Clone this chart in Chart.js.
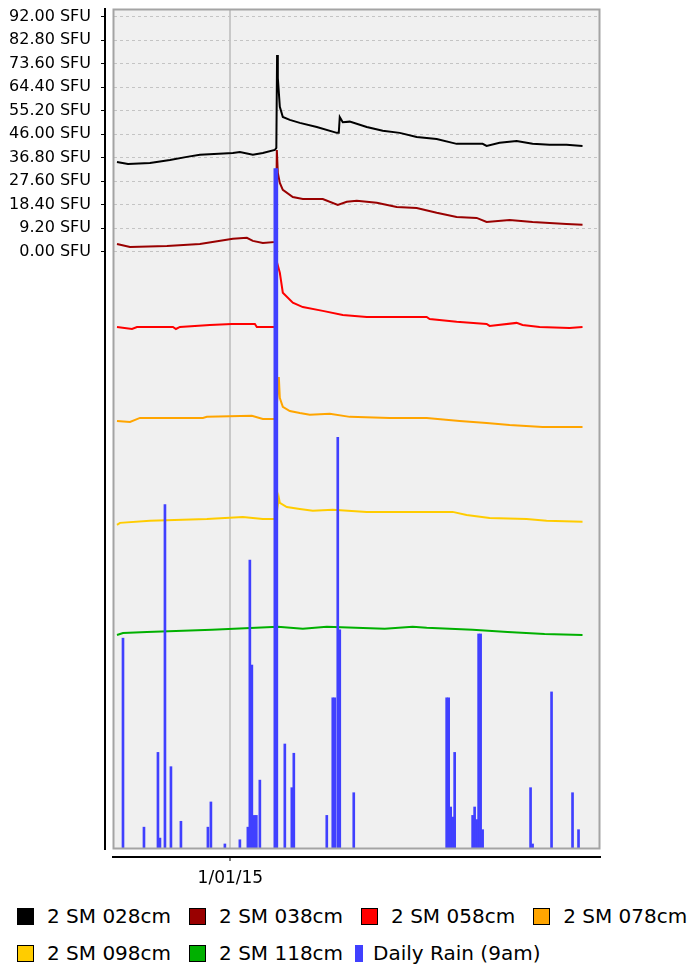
<!DOCTYPE html>
<html>
<head>
<meta charset="utf-8">
<title>Soil moisture</title>
<script src="https://cdn.jsdelivr.net/npm/chart.js@4.4.1/dist/chart.umd.min.js"></script>
<style>
  html, body { margin: 0; padding: 0; background: #fff; overflow: hidden; }
  #wrap { position: relative; width: 691px; height: 966px; }
  #chart { position: absolute; left: 0; top: 0; }
  #legend {
    position: absolute; left: 17px; top: 906px; width: 680px;
    display: flex; flex-wrap: wrap; column-gap: 18px; row-gap: 17px;
    font: 20px "DejaVu Sans", sans-serif; color: #000;
  }
  .item { display: flex; align-items: center; height: 20px; white-space: nowrap; }
  .box { width: 15px; height: 15px; border: 1px solid #000; margin-right: 13px; }
  .box.bar { width: 8px; height: 17px; border: 0; margin-left: -6px; margin-right: 10px; }
</style>
</head>
<body>
<div id="wrap">
  <canvas id="chart" width="691" height="895"></canvas>
  <div id="legend"></div>
</div>
<script>
// ---- data (x = days relative to 1/01/15) ----

const X_TICKS = [0];
const X_TICK_LABELS = ["1/01/15"];
const Y_TICKS = [0, 9.2, 18.4, 27.6, 36.8, 46, 55.2, 64.4, 73.6, 82.8, 92];

const sm028Days = [-45.4, -41.0, -32.2, -24.2, -17.4, -12.2, 1.0, 3.8, 9.0, 13.0, 17.8, 18.4, 18.7, 19.0, 19.8, 21.0, 23.8, 27.8, 34.6, 42.6, 43.4, 43.8, 45.0, 47.8, 54.6, 61.0, 67.8, 74.6, 82.6, 90.6, 101.0, 102.6, 107.8, 114.6, 121.0, 127.8, 134.6, 141.0];
const sm028Values = [35.1, 34.3, 34.7, 35.9, 37.1, 37.9, 38.6, 39.0, 37.9, 38.6, 39.8, 40.6, 77.0, 68.0, 56.7, 52.7, 51.6, 50.4, 48.8, 46.5, 46.5, 52.7, 50.7, 50.9, 48.8, 47.3, 46.5, 44.9, 44.1, 42.2, 42.2, 41.4, 42.6, 43.3, 42.2, 41.8, 41.8, 41.4];

const sm038Days = [-45.4, -40.2, -25.4, -12.2, 1.0, 6.6, 9.0, 13.0, 18.2, 18.6, 19.0, 19.8, 21.0, 25.0, 29.0, 37.0, 43.0, 46.6, 50.6, 58.6, 66.6, 74.6, 82.6, 90.6, 98.6, 102.6, 111.8, 121.0, 127.8, 134.6, 141.0];
const sm038Values = [3.0, 1.8, 2.2, 3.0, 5.0, 5.4, 4.2, 3.4, 3.8, 39.8, 30.8, 26.9, 24.2, 21.4, 20.6, 20.6, 18.3, 19.5, 19.9, 19.1, 17.5, 17.1, 15.2, 13.6, 13.2, 11.6, 12.4, 11.6, 11.2, 10.8, 10.5];

const sm058Days = [-45.4, -39.4, -37.4, -23.0, -21.8, -20.2, -8.2, 0.6, 9.8, 10.6, 18.2, 18.6, 19.8, 21.0, 25.0, 29.0, 37.0, 45.0, 54.6, 78.6, 79.8, 90.6, 102.6, 103.8, 114.6, 117.0, 123.8, 135.8, 141.0];
const sm058Values = [30.5, 29.7, 30.5, 30.5, 29.7, 30.5, 31.3, 31.7, 31.7, 30.5, 30.5, 56.0, 51.7, 43.9, 40.0, 38.3, 36.8, 35.2, 34.4, 34.4, 33.6, 32.5, 31.7, 30.9, 32.1, 31.3, 30.5, 30.1, 30.5];

const sm078Days = [-45.4, -40.2, -36.2, -11.0, -9.4, 8.6, 13.0, 18.2, 19.4, 19.8, 21.0, 23.8, 27.8, 31.8, 39.8, 47.8, 63.8, 78.6, 91.8, 102.6, 111.8, 125.0, 141.0];
const sm078Values = [33.7, 33.3, 34.9, 34.9, 35.3, 35.7, 34.5, 34.5, 50.9, 42.7, 39.2, 37.6, 36.8, 36.1, 36.5, 35.3, 34.9, 34.9, 33.7, 32.9, 32.1, 31.3, 31.3];

const sm098Days = [-45.4, -44.2, -32.2, -9.4, 5.0, 13.0, 18.2, 19.4, 19.8, 22.6, 27.8, 33.0, 41.0, 54.6, 89.0, 94.6, 103.8, 118.6, 126.6, 141.0];
const sm098Values = [33.0, 33.8, 34.6, 35.3, 36.1, 35.3, 35.3, 43.6, 41.6, 40.0, 39.2, 38.5, 38.9, 38.1, 38.1, 36.9, 35.7, 35.3, 34.6, 34.2];

const sm118Days = [-45.4, -43.0, -33.4, -7.4, 19.0, 29.0, 38.6, 61.8, 73.0, 78.6, 97.0, 111.0, 125.8, 141.0];
const sm118Values = [29.9, 30.7, 31.1, 31.9, 33.1, 32.3, 33.1, 32.3, 33.1, 32.7, 31.9, 31.1, 30.3, 29.9];

const rainDays = [-43.0, -34.6, -29.0, -28.2, -26.2, -23.8, -19.8, -9.0, -7.8, -2.2, 3.8, 7.0, 7.8, 8.6, 9.6, 10.4, 11.8, 17.8, 18.6, 21.8, 24.6, 25.4, 38.6, 41.0, 41.8, 43.0, 43.8, 49.4, 86.6, 87.4, 88.2, 89.0, 89.8, 97.0, 97.8, 98.6, 99.4, 100.2, 101.0, 120.2, 121.0, 128.6, 137.0, 139.4];
const rainMm = [25.1, 2.6, 11.5, 1.3, 41.0, 9.8, 3.3, 2.6, 5.6, 0.6, 1.1, 2.6, 34.4, 21.9, 4.0, 4.0, 8.2, 81.0, 81.0, 12.5, 7.3, 11.4, 4.0, 18.0, 18.0, 49.0, 26.1, 6.7, 18.0, 18.0, 5.0, 3.8, 11.5, 4.0, 5.0, 3.5, 25.6, 25.6, 2.3, 7.3, 0.6, 18.7, 6.7, 2.3];

// ---- helpers ----

Chart.defaults.font.family = "'DejaVu Sans', sans-serif";

function toPoints(days, values) {
  return days.map((d, i) => ({ x: d, y: values[i] }));
}

function lineSet(label, color, axisId, days, values) {
  return {
    type: "line",
    label,
    yAxisID: axisId,
    order: 1,
    data: toPoints(days, values),
    borderColor: color,
    backgroundColor: color,
    borderWidth: 2,
    pointRadius: 0,
    tension: 0,
    fill: false,
  };
}

// hidden axis for an offset series: same span as the SFU axis, shifted
function offsetAxis(min, max) {
  return { type: "linear", display: false, min, max };
}

function gapAxis(position, size) {
  const horizontal = position === "bottom";
  return {
    type: "linear", position, weight: 0, min: 0, max: 1,
    grid: { display: false }, border: { display: false }, ticks: { display: false },
    afterFit: (s) => { if (horizontal) s.height = size; else s.width = size; },
  };
}

// plot background + frame
const plotFrame = {
  id: "plotFrame",
  beforeDraw(chart) {
    const { ctx, chartArea: a } = chart;
    ctx.save();
    ctx.fillStyle = "#f0f0f0";
    ctx.fillRect(a.left, a.top, a.width, a.height);
    ctx.restore();
  },
  afterDraw(chart) {
    const { ctx, chartArea: a } = chart;
    ctx.save();
    ctx.strokeStyle = "#a4a4a4";
    ctx.lineWidth = 2;
    ctx.strokeRect(a.left + 0.5, a.top + 0.5, a.width - 1, a.height - 1);
    ctx.restore();
  },
};

// legend built from the datasets
const htmlLegend = {
  id: "htmlLegend",
  afterUpdate(chart) {
    const box = document.getElementById("legend");
    box.innerHTML = "";
    chart.data.datasets.forEach((ds) => {
      const item = document.createElement("div");
      item.className = "item";
      const swatch = document.createElement("span");
      const isBar = ds.type === "bar";
      swatch.className = isBar ? "box bar" : "box";
      swatch.style.background = isBar ? ds.backgroundColor : ds.borderColor;
      const text = document.createElement("span");
      text.textContent = ds.label;
      item.append(swatch, text);
      box.append(item);
    });
  },
};

new Chart(document.getElementById("chart"), {
  type: "line",
  data: {
    datasets: [
      lineSet("2 SM 028cm", "#000000", "y", sm028Days, sm028Values),
      lineSet("2 SM 038cm", "#990000", "y", sm038Days, sm038Values),
      lineSet("2 SM 058cm", "#ff0000", "y058", sm058Days, sm058Values),
      lineSet("2 SM 078cm", "#ffa500", "y078", sm078Days, sm078Values),
      lineSet("2 SM 098cm", "#ffcc00", "y098", sm098Days, sm098Values),
      lineSet("2 SM 118cm", "#00b000", "y118", sm118Days, sm118Values),
      {
        type: "bar",
        label: "Daily Rain (9am)",
        yAxisID: "yRain",
        order: 0,
        data: toPoints(rainDays, rainMm),
        backgroundColor: "#4040ff",
        borderWidth: 0,
        barThickness: 2,
      },
    ],
  },
  options: {
    responsive: false,
    animation: false,
    layout: { padding: { top: 9, left: 0, right: 0, bottom: 0 } },
    plugins: { legend: { display: false }, tooltip: { enabled: false } },
    scales: {
      x: {
        type: "linear", position: "bottom", weight: 1, min: -47, max: 148, offset: false,
        afterBuildTicks: (s) => { s.ticks = X_TICKS.map((v) => ({ value: v })); },
        afterFit: (s) => { s.height = 38; s.paddingLeft = 0; s.paddingRight = 0; },
        grid: { offset: false, color: "#c8c8c8", lineWidth: 2, tickColor: "#000", tickWidth: 1, tickLength: 4 },
        border: { display: true, color: "#000", width: 2 },
        ticks: { color: "#000", font: { size: 17 }, padding: 7, maxRotation: 0, autoSkip: false,
                 callback: (v, i) => X_TICK_LABELS[i] },
      },
      xGap: gapAxis("bottom", 8),
      y: {
        type: "linear", position: "left", weight: 1, min: -233.9, max: 95.0,
        afterBuildTicks: (s) => { s.ticks = Y_TICKS.map((v) => ({ value: v })); },
        afterFit: (s) => { s.width = 105; s.paddingTop = 0; s.paddingBottom = 0; },
        grid: { color: "#c4c4c4", lineWidth: 1, tickColor: "#000", tickLength: 4 },
        border: { display: true, color: "#000", width: 2, dash: [3, 3] },
        ticks: { color: "#000", font: { size: 16 }, padding: 10, autoSkip: false,
                 callback: (v) => Number(v).toFixed(2) + " SFU" },
      },
      yGap: gapAxis("left", 8),
      yRight: gapAxis("right", 91),
      y058: offsetAxis(-173.9, 155.0),
      y078: offsetAxis(-133.9, 195.0),
      y098: offsetAxis(-93.9, 235.0),
      y118: offsetAxis(-53.9, 275.0),
      yRain: offsetAxis(0, 100),
    },
  },
  plugins: [plotFrame, htmlLegend],
});
</script>
</body>
</html>
